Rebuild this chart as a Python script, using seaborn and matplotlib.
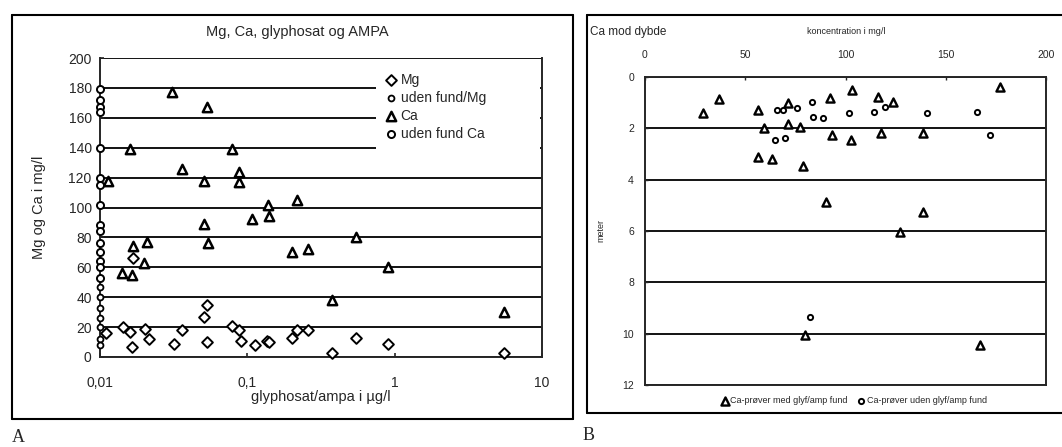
import pandas as pd
import matplotlib.pyplot as plt
import seaborn as sns
from matplotlib.lines import Line2D
from matplotlib.patches import Rectangle

# ----- panel A: Mg, Ca vs glyphosat/AMPA -----
ca_x = [0.031, 0.053, 0.016, 0.079, 0.036, 0.051, 0.088, 0.088, 0.0113, 0.051, 0.108, 0.14,
        0.139, 0.218, 0.021, 0.054, 0.0167, 0.020, 0.0141, 0.0165, 0.545, 0.20, 0.258, 0.90,
        0.375, 5.5]
ca_y = [177, 167, 139, 139, 126, 118, 124, 117, 118, 89, 92, 94,
        102, 105, 77, 76, 74, 63, 56, 55, 80, 70, 72, 60,
        38, 30]

mg_x = [0.011, 0.0143, 0.0159, 0.0165, 0.0201, 0.0214, 0.032, 0.036, 0.053, 0.051, 0.053, 0.079,
        0.088, 0.091, 0.112, 0.136, 0.141, 0.20, 0.218, 0.26, 0.375, 0.545, 0.90, 5.5, 0.0167]
mg_y = [16, 20, 17, 7, 19, 12, 9, 18, 35, 27, 10, 21,
        18, 11, 8, 11, 10, 13, 18, 18, 3, 13, 9, 3, 66]

uden_mg_y = [47, 40, 33, 26, 20, 12, 8]
uden_ca_y = [179, 172, 167, 164, 140, 120, 115, 102, 88, 84, 76, 70, 64, 60, 53]
detect_limit = 0.01

x_ticks = [0.01, 0.1, 1, 10]
x_tick_labels = ['0,01', '0,1', '1', '10']

# ----- panel B: Ca mod dybde -----
med_conc = [28.9, 36.9, 56.4, 59.4, 71.3, 71.3, 77.3, 56.4, 63.3, 78.8, 92.3, 103.2,
            93.3, 102.7, 116.2, 123.7, 117.7, 138.7, 177, 90.3, 138.7, 127.2, 79.8, 167.1]
med_depth = [1.40, 0.86, 1.29, 2.0, 1.03, 1.83, 1.94, 3.1, 3.2, 3.47, 0.82, 0.51,
             2.26, 2.45, 0.77, 0.97, 2.2, 2.2, 0.4, 4.87, 5.25, 6.04, 10.05, 10.44]
uden_conc = [66, 69, 76, 64.8, 69.8, 83.3, 83.8, 88.8, 101.7, 119.7, 114.2, 140.6,
             165.6, 172, 82.3]
uden_depth = [1.3, 1.3, 1.2, 2.45, 2.38, 0.97, 1.55, 1.6, 1.41, 1.16, 1.36, 1.4,
              1.36, 2.26, 9.35]

sns.set_style('ticks')
plt.rcParams['font.family'] = ['Liberation Sans', 'DejaVu Sans']

fig = plt.figure(figsize=(10.62, 4.47), dpi=100)
W, H = 1062, 447
axA = fig.add_axes([100 / W, 1 - 357 / H, 442 / W, 299 / H])
axB = fig.add_axes([645 / W, 1 - 385 / H, 401 / W, 308 / H])

# panel A
df_mg = pd.DataFrame({'x': mg_x, 'y': mg_y})
df_umg = pd.DataFrame({'x': [detect_limit] * len(uden_mg_y), 'y': uden_mg_y})
df_ca = pd.DataFrame({'x': ca_x, 'y': ca_y})
df_uca = pd.DataFrame({'x': [detect_limit] * len(uden_ca_y), 'y': uden_ca_y})

common = dict(ax=axA, color='white', edgecolor='black', clip_on=False, zorder=4)
sns.scatterplot(data=df_mg, x='x', y='y', marker='D', s=30, linewidth=1.4, label='Mg', **common)
sns.scatterplot(data=df_umg, x='x', y='y', marker='o', s=18, linewidth=1.3, label='uden fund/Mg', **common)
sns.scatterplot(data=df_ca, x='x', y='y', marker='^', s=45, linewidth=1.8, label='Ca', **common)
sns.scatterplot(data=df_uca, x='x', y='y', marker='o', s=26, linewidth=1.4, label='uden fund Ca', **common)

axA.set_xscale('log')
axA.set_xlim(0.01, 10)
axA.set_ylim(0, 200)
axA.set_xticks(x_ticks, labels=x_tick_labels)
axA.xaxis.set_minor_locator(plt.NullLocator())
axA.set_yticks(range(0, 201, 20))
axA.yaxis.grid(True, color='black', lw=1.3)
axA.set_axisbelow(True)
axA.tick_params(axis='both', labelsize=10, length=3, width=1.2, direction='in', pad=6)
axA.tick_params(axis='x', pad=14)
for s in ['left', 'bottom', 'right']:
    axA.spines[s].set_linewidth(1.4)
axA.spines['top'].set_visible(False)
axA.set_xlabel('glyphosat/ampa i µg/l', fontsize=10.5, labelpad=0)
axA.set_ylabel('Mg og Ca i mg/l', fontsize=10.5, labelpad=16)
# blank strip where the legend breaks the grid lines
axA.add_patch(Rectangle((0.625, 0.686), 0.37, 0.27, transform=axA.transAxes,
                        facecolor='white', edgecolor='none', zorder=2))
axA.legend(loc='upper left', bbox_to_anchor=(0.63, 0.965), fontsize=10, frameon=False,
           handletextpad=0.1, labelspacing=0.3, borderpad=0.3, handlelength=1.2,
           borderaxespad=0)
fig.text(297 / W, 1 - 32 / H, 'Mg, Ca, glyphosat og AMPA', fontsize=10.5, ha='center', va='center')

# panel B
df_med = pd.DataFrame({'conc': med_conc, 'depth': med_depth})
df_uden = pd.DataFrame({'conc': uden_conc, 'depth': uden_depth})
sns.scatterplot(data=df_med, x='conc', y='depth', ax=axB, marker='^', s=34, color='white',
                edgecolor='black', linewidth=1.7, label='Ca-prøver med glyf/amp fund', zorder=4)
sns.scatterplot(data=df_uden, x='conc', y='depth', ax=axB, marker='o', s=14, color='white',
                edgecolor='black', linewidth=1.4, label='Ca-prøver uden glyf/amp fund', zorder=4)
axB.set_xlim(0, 200)
axB.set_ylim(12, 0)
axB.xaxis.tick_top()
axB.set_xticks([0, 50, 100, 150, 200])
axB.set_yticks(range(0, 13, 2))
axB.yaxis.grid(True, color='black', lw=1.3)
axB.set_axisbelow(True)
axB.tick_params(axis='both', labelsize=7.5, length=2, width=1, direction='in')
axB.tick_params(axis='x', pad=12)
axB.tick_params(axis='y', pad=8)
for s in axB.spines.values():
    s.set_linewidth(1.4)
axB.set_xlabel('')
axB.set_ylabel('meter', fontsize=6.5, labelpad=12)
axB.legend(loc='upper center', bbox_to_anchor=(0.52, -0.01), ncol=2, fontsize=6.5, frameon=False,
           handletextpad=0.1, columnspacing=1.0, handlelength=1.0)
fig.text(590 / W, 1 - 32 / H, 'Ca mod dybde', fontsize=8.5, ha='left', va='center')
fig.text(846 / W, 1 - 32 / H, 'koncentration i mg/l', fontsize=6.5, ha='center', va='center')

# scanned page frames and panel letters
def fline(x0, y0, x1, y1):
    fig.add_artist(Line2D([x0 / W, x1 / W], [1 - y0 / H, 1 - y1 / H], color='black', lw=1.5))

fline(12, 15, 573, 15)
fline(12, 15, 12, 419)
fline(12, 419, 573, 419)
fline(573, 15, 573, 419)
fline(587, 15, 1062, 15)
fline(587, 15, 587, 413)
fline(587, 413, 1062, 413)
fig.text(12 / W, 1 - 437 / H, 'A', fontsize=13, family='Liberation Serif', va='center')
fig.text(583 / W, 1 - 435 / H, 'B', fontsize=13, family='Liberation Serif', va='center')

fig.savefig('out.png', dpi=100)
